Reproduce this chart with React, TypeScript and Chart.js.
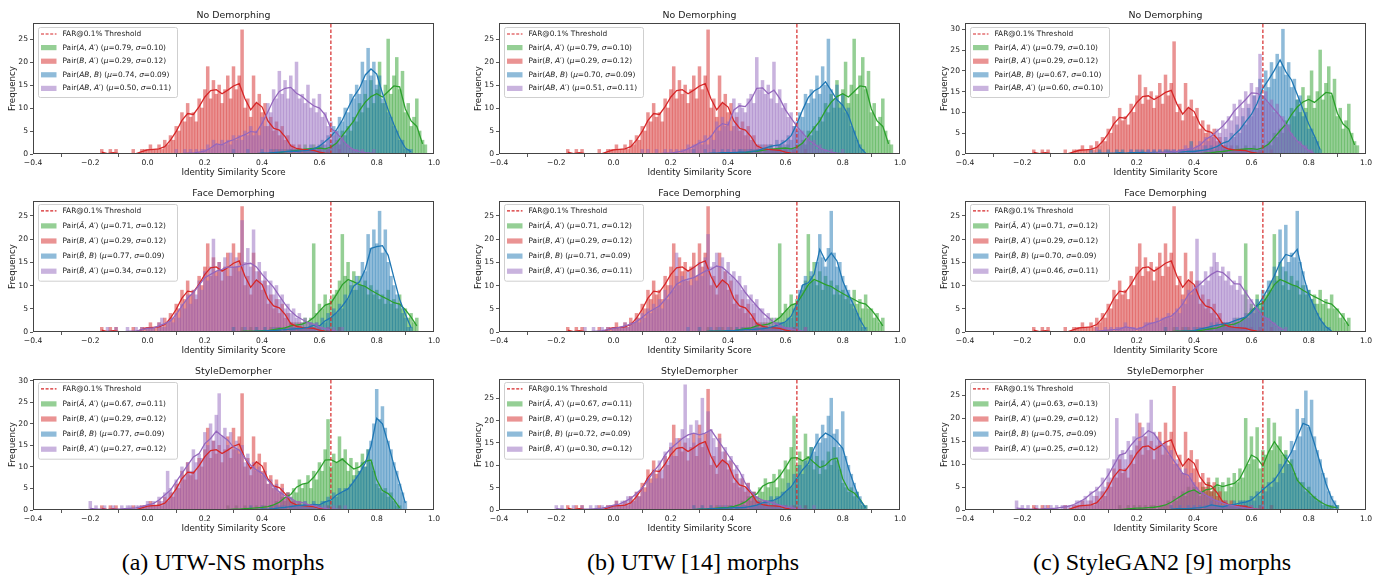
import React, { useEffect, useRef } from "react";
import { Chart, registerables } from "chart.js";

Chart.register(...registerables);

// ---------------- data ----------------
const X_MIN = -0.4;
const X_MAX = 1.0;
const X_TICK_STEP = 0.2;
const Y_TICK_STEP = 5;
const BIN = 0.01;
const LINE_STEP = 0.02;
const THRESHOLD = 0.64;
const THRESHOLD_LABEL = "FAR@0.1% Threshold";
const X_LABEL = "Identity Similarity Score";
const Y_LABEL = "Frequency";
const ROW_TITLES = ["No Demorphing", "Face Demorphing", "StyleDemorpher"];
const CAPTIONS = ["(a) UTW-NS morphs", "(b) UTW [14] morphs", "(c) StyleGAN2 [9] morphs"];
const Y_MAX = [
  [28.5, 28.5, 31.5],
  [28.2, 28.2, 28.2],
  [30.4, 29.3, 28.6],
];

// Pair(B, A') — identical in every panel
const RED_X0 = -0.16;
const RED_BARS = [1,0,0,1,0,1,0,0,0,0, 0,1,0,0,1,1,1,2,1,1, 2,1,3,2,4,3,6,5,9,7, 11,8,9,7,12,10,14,19,12,16, 13,15,11,14,17,12,19,14,17,27, 10,12,8,17,11,13,9,11,6,8, 5,7,4,6,3,4,2,2,1,2, 1,1,1,1,1,0,1,0,0,1, 0,0,0,1,0];
const RED_LINE = [0.4,0.1,0.3,0.1,0.1,0.1,0.1,0.5,0.9,1.0, 1.1,1.6,3.0,4.9,7.3,8.8,8.6,10.3,12.4,13.8, 14.0,13.1,13.9,14.8,15.3,12.0,9.6,11.2,10.2,7.2, 5.6,5.2,3.8,1.8,1.2,1.0,0.9,0.8,0.4,0.2, 0.1,0.1,0.1];

// No Demorphing
const GREEN_ND_X0 = 0.42;
const GREEN_ND_BARS = [0,0,1,0,1,0,1,0,1,1, 0,1,1,2,1,1,2,1,1,2, 1,1,2,2,3,2,5,4,6,5, 8,7,11,9,13,10,16,11,14,20, 11,15,25,13,17,21,14,18,9,11, 6,8,12,5,3,2];
const GREEN_ND_LINE = [0.1,0.2,0.3,0.5,0.6,0.8,1.0,1.1,1.2,1.3, 1.1,1.5,2.4,4.0,5.6,7.2,9.5,11.3,12.5,13.1, 12.4,13.6,14.8,14.6,9.8,7.2,6.0,2.2];

const BLUE_ND_A_X0 = 0.30;
const BLUE_ND_A_BARS = [1,0,0,0,0,1,0,0,0,0, 1,0,0,1,0,1,0,1,0,1, 1,0,1,1,0,1,1,2,1,1, 2,3,2,4,3,6,5,8,7,10, 9,13,12,15,13,20,16,23,17,20, 15,17,12,11,9,8,6,5,3,3, 1,1,1,0];
const BLUE_ND_A_LINE = [0.1,0.1,0.1,0.1,0.1,0.2,0.2,0.3,0.4,0.5, 0.6,0.6,0.7,0.8,1.1,1.7,2.7,3.8,5.3,7.4, 10.0,12.5,14.3,17.2,18.5,17.4,13.2,9.6,6.4,3.5, 1.3,0.5];
const PURPLE_ND_A_X0 = 0.10;
const PURPLE_ND_A_BARS = [1,0,0,1,0,1,0,1,0,1, 1,2,1,3,2,2,3,2,3,2, 4,3,4,3,5,4,6,4,5,4, 8,6,11,9,14,12,18,13,16,12, 17,14,20,12,13,11,15,10,12,9, 13,8,9,6,7,4,5,3,4,2, 2,1,1,1,0,1,0,0,0,1, 0];
const PURPLE_ND_A_LINE = [0.1,0.1,0.2,0.2,0.4,0.6,1.3,2.2,2.0,2.7, 3.1,3.7,4.2,4.9,4.7,6.7,9.2,11.8,13.6,14.3, 14.5,13.2,12.5,11.4,10.5,10.0,8.5,5.6,4.6,3.1, 1.7,0.9,0.5,0.3,0.2,0.1];

const BLUE_ND_B_X0 = 0.28;
const BLUE_ND_B_BARS = [1,0,0,0,1,0,0,1,0,0, 1,0,1,0,1,0,1,1,0,1, 1,1,1,1,2,1,2,2,1,3, 2,3,2,4,3,6,5,9,8,13, 11,14,12,17,13,19,15,25,14,12, 15,10,13,9,10,6,5,3,2,1, 0];
const BLUE_ND_B_LINE = [0.1,0.1,0.1,0.2,0.2,0.3,0.3,0.3,0.4,0.4, 0.5,0.7,1.1,1.5,1.8,2.0,2.8,4.0,6.6,9.6, 12.3,13.7,14.4,15.7,13.8,11.8,10.6,8.4,4.8,1.5, 0.2];
const PURPLE_ND_B_X0 = 0.10;
const PURPLE_ND_B_BARS = [1,0,1,0,0,1,0,0,1,0, 1,0,1,0,1,1,2,1,2,2, 3,2,4,2,4,3,7,5,8,6, 7,5,12,9,11,10,9,12,13,11, 21,14,16,13,15,12,20,11,14,10, 11,8,9,6,7,5,5,3,4,2, 3,1,2,1,1,0,1,0,0,0, 1];
const PURPLE_ND_B_LINE = [0.1,0.1,0.1,0.1,0.2,0.2,0.4,0.6,1.1,1.7, 2.4,2.8,3.8,5.6,6.6,6.3,9.6,10.5,10.3,11.8, 14.3,14.4,13.1,13.9,12.1,9.6,7.8,6.0,4.6,3.1, 2.2,1.3,0.8,0.4,0.2,0.1];

const BLUE_ND_C_X0 = 0.04;
const BLUE_ND_C_BARS = [1,0,0,1,0,0,1,0,0,1, 0,1,0,0,1,0,1,0,1,0, 1,0,1,0,1,0,1,1,0,1, 0,1,1,0,1,3,1,1,1,1, 2,1,2,1,2,3,2,4,3,5, 4,7,5,9,7,11,9,14,11,18, 14,20,16,22,18,24,21,30,19,22, 16,18,13,14,9,10,6,6,4,3, 1];
const BLUE_ND_C_LINE = [0.1,0.2,0.2,0.2,0.2,0.3,0.2,0.3,0.3,0.4, 0.3,0.4,0.4,0.4,0.5,0.5,0.5,0.6,0.6,0.8, 1.0,1.3,1.8,2.6,3.1,4.6,5.9,7.8,9.5,12.2, 15.8,17.9,20.1,22.6,19.8,17.8,14.3,10.7,7.2,4.3, 1.0];
const PURPLE_ND_C_X0 = 0.18;
const PURPLE_ND_C_BARS = [1,0,0,1,0,0,1,0,1,0, 1,0,1,0,1,1,0,1,1,2, 1,2,1,2,3,2,4,3,5,4, 6,5,8,6,9,8,12,9,13,11, 15,12,17,14,16,24,13,15,12,13, 10,12,9,9,7,7,5,4,3,3, 2,2,1,1,0];
const PURPLE_ND_C_LINE = [0.1,0.1,0.1,0.2,0.2,0.3,0.4,0.5,0.6,0.9, 1.2,1.4,2.1,3.5,4.3,5.5,6.7,8.3,10.3,11.7, 13.1,14.7,14.6,13.9,12.3,10.7,9.1,7.1,4.7,3.1, 1.9,0.8,0.1];

// Face Demorphing
const GREEN_FD_X0 = 0.30;
const GREEN_FD_BARS = [1,0,0,1,0,0,1,0,1,0, 0,1,0,1,0,1,1,0,1,1, 2,1,2,1,2,3,2,3,19,4, 6,5,8,6,7,8,9,11,21,12, 15,10,13,9,12,10,11,8,10,8, 9,7,8,6,9,6,7,5,8,5, 5,3,4,2,3];
const GREEN_FD_LINE = [0.1,0.1,0.2,0.2,0.2,0.3,0.3,0.5,0.7,0.9, 1.3,1.5,1.7,2.2,3.1,4.5,5.8,6.2,8.1,10.2, 11.3,10.8,10.2,9.8,9.0,8.3,7.6,7.0,6.3,6.0, 4.8,3.2,1.3];

const BLUE_FD_A_X0 = 0.30;
const BLUE_FD_A_BARS = [1,0,0,0,1,0,0,0,1,0, 0,1,0,0,1,0,1,0,1,0, 1,1,0,1,1,1,1,2,1,2, 1,3,2,4,3,5,4,6,5,8, 7,11,9,12,10,15,13,21,18,22, 19,26,17,22,15,12,10,8,6,4, 3,1,1];
const BLUE_FD_A_LINE = [0.1,0.1,0.1,0.1,0.2,0.2,0.3,0.3,0.4,0.5, 0.6,0.7,0.8,1.0,1.4,1.3,2.4,3.1,4.2,5.6, 7.3,9.9,10.8,13.5,18.0,18.4,18.6,16.5,11.7,7.0, 3.8,0.9];
const PURPLE_FD_A_X0 = -0.14;
const PURPLE_FD_A_BARS = [1,0,0,1,0,0,0,1,0,0, 1,0,1,0,1,1,1,0,2,3, 1,2,3,2,4,3,6,5,8,6, 9,8,11,9,13,11,14,20,12,15, 13,16,12,17,14,16,13,24,15,18, 14,22,13,15,11,13,10,11,8,10, 7,8,5,6,4,5,3,4,2,3, 2,2,1,2,1,1,0,1,0,1, 0,0,1];
const PURPLE_FD_A_LINE = [0.2,0.1,0.1,0.1,0.2,0.2,0.5,0.8,0.9,1.3, 1.8,2.4,3.8,5.6,7.3,8.5,10.1,11.7,12.4,13.1, 13.5,14.0,13.9,14.1,14.6,14.8,14.0,12.4,11.0,9.6, 7.8,6.0,4.5,3.4,2.7,2.0,1.7,1.1,0.7,0.4, 0.2,0.1];

const BLUE_FD_B_X0 = 0.26;
const BLUE_FD_B_BARS = [1,0,0,0,1,0,0,0,1,0, 0,1,0,0,1,0,0,1,0,1, 0,1,0,1,1,0,1,1,1,1, 1,2,2,2,2,3,3,5,6,9, 10,12,10,13,11,15,21,16,14,18, 26,17,14,15,12,10,9,7,5,4, 3,1,1];
const BLUE_FD_B_LINE = [0.1,0.1,0.1,0.1,0.2,0.2,0.2,0.3,0.3,0.4, 0.5,0.5,0.6,0.7,0.9,1.2,1.7,2.2,3.4,6.0, 10.1,10.6,12.4,17.8,15.3,17.0,15.3,11.0,8.1,5.6, 2.7,0.6];
const PURPLE_FD_B_X0 = -0.10;
const PURPLE_FD_B_BARS = [1,0,0,1,0,0,1,0,1,0, 1,1,1,1,2,1,2,2,3,2, 4,3,5,4,6,5,7,5,9,7, 10,9,17,10,12,11,13,10,14,11, 15,12,16,21,14,15,17,14,16,13, 15,12,13,11,12,9,10,7,8,6, 7,5,5,3,4,2,3,2,2,1, 1,1,1,0,1,0,0,1,0];
const PURPLE_FD_B_LINE = [0.1,0.1,0.2,0.3,0.5,0.8,1.0,1.3,1.7,2.2, 3.1,4.2,4.9,5.6,7.0,8.5,10.3,11.0,11.4,11.7, 12.4,13.1,13.5,14.2,13.9,12.8,11.7,10.3,8.5,7.0, 5.6,4.2,3.1,2.0,1.4,0.9,0.6,0.4,0.2,0.1];

const BLUE_FD_C_X0 = 0.30;
const BLUE_FD_C_BARS = [1,0,0,0,1,0,0,1,0,0, 1,0,1,0,1,1,2,1,2,1, 2,2,2,1,3,2,3,3,4,3, 5,4,7,5,9,7,11,9,14,11, 22,14,23,15,17,16,26,15,13,10, 9,7,6,4,3,2,1,1,0];
const BLUE_FD_C_LINE = [0.1,0.1,0.1,0.2,0.2,0.3,0.6,0.9,1.2,1.5, 1.7,1.9,2.4,2.8,3.2,4.2,5.6,7.4,9.6,12.1, 14.9,16.7,16.3,17.8,12.4,8.1,5.2,2.7,1.1,0.2];
const PURPLE_FD_C_X0 = 0.06;
const PURPLE_FD_C_BARS = [1,0,0,1,0,1,0,1,1,1, 2,1,1,1,0,1,1,2,2,2, 2,3,2,3,3,4,3,4,5,4, 7,6,9,8,10,20,11,10,13,11, 14,17,15,12,14,11,13,10,11,9, 12,8,9,7,7,5,5,4,3,3, 3,2,2,1,1,0,1];
const PURPLE_FD_C_LINE = [0.2,0.3,0.4,0.5,0.6,1.1,0.9,0.6,1.0,1.7, 2.0,2.4,3.1,3.4,4.5,6.0,8.1,9.2,10.3,11.4, 12.4,13.1,12.8,11.7,10.4,10.3,8.5,6.7,4.9,3.4, 2.7,1.7,0.8,0.3];

// StyleDemorpher
const GREEN_SD_X0 = 0.28;
const GREEN_SD_BARS = [1,0,0,1,0,0,1,0,1,0, 1,0,1,1,0,1,1,2,1,3, 2,4,3,5,4,7,5,6,8,5, 9,7,11,9,14,21,10,13,11,17, 12,14,9,12,8,11,9,13,10,14, 11,9,6,5,4,5,3,4,2,1, 1];
const GREEN_SD_LINE = [0.1,0.2,0.2,0.3,0.4,0.5,0.6,0.8,1.2,1.8, 2.9,3.6,5.3,6.0,6.3,7.6,9.5,11.6,11.7,11.0, 11.8,10.6,9.5,10.0,11.3,11.6,7.0,4.5,3.8,2.4, 0.5];
const GREEN_SD_C_X0 = 0.14;
const GREEN_SD_C_BARS = [1,0,0,1,0,1,0,1,0,1, 0,1,1,0,1,1,1,2,1,3, 2,3,4,3,5,4,5,4,3,5, 4,6,4,5,7,5,6,4,7,5, 8,6,9,7,20,10,16,11,18,9, 13,12,20,13,19,14,16,12,13,10, 11,8,7,6,6,4,5,3,3,2, 2,1,1,1,1,0,1];
const GREEN_SD_C_LINE = [0.1,0.2,0.3,0.4,0.4,0.5,0.6,0.8,1.1,1.7, 2.5,3.3,4.0,4.4,3.6,4.4,4.6,5.5,5.1,5.5, 5.8,6.9,9.4,12.0,11.3,9.6,12.7,14.9,13.1,11.3, 9.8,6.5,5.1,4.0,2.7,1.8,1.1,0.7,0.5];

const BLUE_SD_A_X0 = 0.36;
const BLUE_SD_A_BARS = [1,0,0,0,1,0,0,1,0,1, 0,1,1,0,1,1,1,1,1,2, 1,1,2,1,1,2,2,3,2,4, 3,5,4,5,5,6,7,8,9,11, 10,14,16,20,28,21,24,19,16,14, 11,9,6,4,2];
const BLUE_SD_A_LINE = [0.1,0.1,0.2,0.2,0.3,0.5,0.6,0.8,1.0,1.1, 1.2,1.3,1.2,1.9,2.3,3.5,4.2,4.9,6.6,8.5, 10.9,14.8,21.3,20.0,15.4,10.4,6.2,1.6];
const PURPLE_SD_A_X0 = -0.20;
const PURPLE_SD_A_BARS = [2,0,1,0,0,1,0,0,1,0, 0,1,0,1,1,0,1,1,1,1, 2,1,2,1,3,2,4,9,5,4, 7,6,10,8,11,9,14,11,13,12, 18,15,20,16,22,27,17,19,15,18, 14,16,13,15,11,13,10,11,9,10, 8,9,6,7,5,6,4,5,3,4, 3,2,2,2,1,2,1,1,1,1, 1,0,1,0,0,1,0,0,0,1, 0];
const PURPLE_SD_A_LINE = [0.4,0.2,0.2,0.1,0.2,0.2,0.3,0.4,0.5,0.8, 1.2,1.5,2.3,3.5,4.6,6.6,8.5,10.4,12.3,13.1, 15.4,16.6,18.3,17.2,16.2,14.6,13.9,12.0,10.4,9.3, 8.5,6.9,5.4,4.2,3.3,2.7,1.9,1.7,1.3,1.0, 0.6,0.4,0.2,0.2,0.1,0.1];

const BLUE_SD_B_X0 = 0.28;
const BLUE_SD_B_BARS = [1,0,0,1,0,0,1,0,0,1, 0,1,0,1,0,1,0,1,1,0, 1,1,1,2,1,2,2,3,2,3, 3,4,4,6,5,8,7,10,8,11, 10,14,13,17,15,19,16,21,25,17, 18,14,22,12,10,8,6,4,3,1, 1];
const BLUE_SD_B_LINE = [0.1,0.2,0.2,0.3,0.3,0.4,0.4,0.5,0.5,0.6, 0.8,1.1,1.6,1.9,2.2,2.8,4.1,5.2,7.1,9.0, 10.4,13.8,16.0,17.2,16.5,15.3,13.8,9.3,5.6,2.2, 0.5];
const PURPLE_SD_B_X0 = -0.20;
const PURPLE_SD_B_BARS = [1,0,1,0,0,0,1,0,0,1, 0,0,1,0,1,0,1,0,1,1, 1,2,1,2,2,3,3,2,4,3, 5,4,7,6,9,7,11,9,13,11, 15,12,16,14,18,28,16,19,15,20, 16,25,15,22,18,16,14,16,13,14, 11,12,9,10,7,8,5,6,4,4, 3,2,2,2,2,1,2,1,1,1, 1,0,1,0,0,1,0,0,0,0, 1];
const PURPLE_SD_B_LINE = [0.3,0.2,0.1,0.1,0.1,0.2,0.2,0.3,0.4,0.7, 1.1,1.3,1.9,2.6,3.7,4.9,6.7,8.6,10.2,12.3, 13.8,14.9,16.0,16.8,17.2,16.8,17.2,17.9,16.0,14.2, 12.3,10.4,8.6,6.0,4.1,2.8,2.2,1.9,1.5,1.1, 0.7,0.5,0.3,0.2,0.1,0.1];

const BLUE_SD_C_X0 = 0.32;
const BLUE_SD_C_BARS = [1,0,0,1,0,0,1,0,1,0, 1,0,1,1,2,1,1,1,1,1, 1,1,2,1,2,2,2,2,3,2, 4,3,5,4,6,5,7,6,10,8, 12,10,15,13,22,16,20,26,18,24, 16,13,11,8,7,4,3,2,1];
const BLUE_SD_C_LINE = [0.2,0.3,0.3,0.3,0.4,0.5,0.7,1.1,0.9,0.7, 1.0,1.2,1.5,1.7,2.2,3.3,4.4,5.5,6.5,8.4, 10.5,12.7,16.0,18.9,18.4,14.5,10.2,5.8,2.5,0.4];
const PURPLE_SD_C_X0 = -0.22;
const PURPLE_SD_C_BARS = [2,0,1,0,1,0,0,1,0,0, 1,0,1,0,1,0,1,1,1,1, 1,2,2,2,3,2,4,3,5,4, 7,5,9,7,11,20,12,13,11,15, 13,16,21,15,18,16,19,24,17,16, 15,14,15,12,13,10,11,9,8,9, 7,8,6,5,4,4,3,3,3,2, 2,2,1,2,1,1,1,1,0,1, 0,0,1,0,0,0,1];
const PURPLE_SD_C_LINE = [0.4,0.3,0.2,0.2,0.2,0.3,0.3,0.4,0.6,0.8, 1.2,1.8,2.5,3.6,4.4,5.8,7.6,9.8,12.0,12.4, 14.2,15.6,16.1,17.3,16.7,14.9,13.4,11.6,9.8,8.0, 7.6,5.5,4.0,3.3,2.5,2.0,1.5,1.1,0.9,0.6, 0.4,0.3,0.2,0.1];

// legend labels (text between underscores is italic)
const LABELS_ND_A = ["Pair(_A_, _A_′) (_μ_=0.79, _σ_=0.10)", "Pair(_B_, _A_′) (_μ_=0.29, _σ_=0.12)", "Pair(_AB_, _B_) (_μ_=0.74, _σ_=0.09)", "Pair(_AB_, _A_′) (_μ_=0.50, _σ_=0.11)"];
const LABELS_ND_B = ["Pair(_A_, _A_′) (_μ_=0.79, _σ_=0.10)", "Pair(_B_, _A_′) (_μ_=0.29, _σ_=0.12)", "Pair(_AB_, _B_) (_μ_=0.70, _σ_=0.09)", "Pair(_AB_, _A_′) (_μ_=0.51, _σ_=0.11)"];
const LABELS_ND_C = ["Pair(_A_, _A_′) (_μ_=0.79, _σ_=0.10)", "Pair(_B_, _A_′) (_μ_=0.29, _σ_=0.12)", "Pair(_AB_, _B_) (_μ_=0.67, _σ_=0.10)", "Pair(_AB_, _A_′) (_μ_=0.60, _σ_=0.10)"];
const LABELS_FD_A = ["Pair(_Â_, _A_′) (_μ_=0.71, _σ_=0.12)", "Pair(_B_, _A_′) (_μ_=0.29, _σ_=0.12)", "Pair(_B̂_, _B_) (_μ_=0.77, _σ_=0.09)", "Pair(_B̂_, _A_′) (_μ_=0.34, _σ_=0.12)"];
const LABELS_FD_B = ["Pair(_Â_, _A_′) (_μ_=0.71, _σ_=0.12)", "Pair(_B_, _A_′) (_μ_=0.29, _σ_=0.12)", "Pair(_B̂_, _B_) (_μ_=0.71, _σ_=0.09)", "Pair(_B̂_, _A_′) (_μ_=0.36, _σ_=0.11)"];
const LABELS_FD_C = ["Pair(_Â_, _A_′) (_μ_=0.71, _σ_=0.12)", "Pair(_B_, _A_′) (_μ_=0.29, _σ_=0.12)", "Pair(_B̂_, _B_) (_μ_=0.70, _σ_=0.09)", "Pair(_B̂_, _A_′) (_μ_=0.46, _σ_=0.11)"];
const LABELS_SD_A = ["Pair(_Â_, _A_′) (_μ_=0.67, _σ_=0.11)", "Pair(_B_, _A_′) (_μ_=0.29, _σ_=0.12)", "Pair(_B̂_, _B_) (_μ_=0.77, _σ_=0.09)", "Pair(_B̂_, _A_′) (_μ_=0.27, _σ_=0.12)"];
const LABELS_SD_B = ["Pair(_Â_, _A_′) (_μ_=0.67, _σ_=0.11)", "Pair(_B_, _A_′) (_μ_=0.29, _σ_=0.12)", "Pair(_B̂_, _B_) (_μ_=0.72, _σ_=0.09)", "Pair(_B̂_, _A_′) (_μ_=0.30, _σ_=0.12)"];
const LABELS_SD_C = ["Pair(_Â_, _A_′) (_μ_=0.63, _σ_=0.13)", "Pair(_B_, _A_′) (_μ_=0.29, _σ_=0.12)", "Pair(_B̂_, _B_) (_μ_=0.75, _σ_=0.09)", "Pair(_B̂_, _A_′) (_μ_=0.25, _σ_=0.12)"];

// ---------------- styling ----------------
const FONT = '"DejaVu Sans", "Noto Sans", sans-serif';
const LINE_COLORS = ["#2ca02c", "#d62728", "#1f77b4", "#9467bd"];
const FILL_COLORS = ["rgba(44,160,44,0.5)", "rgba(214,39,40,0.5)", "rgba(31,119,180,0.5)", "rgba(148,103,189,0.5)"];
const THRESH_COLOR = "#d62728";
const AXIS_COLOR = "#444";
const TEXT_COLOR = "#1a1a1a";

const CW = 448;
const CH = 180;
const PAD_TOP = 23;
const Y_AXIS_W = 33;
const X_AXIS_H = 24;
const PAD_RIGHT = 14;
const PAD_BOTTOM = CH - PAD_TOP - X_AXIS_H - 131;
const COL_LEFT = [0, 466, 932];
const ROW_TOP = [0, 178, 356];
const CAPTION_CX = [223, 693, 1162];

const S = (x0: number, bars: number[], line: number[]) => ({ x0, bars, line });
const RED = S(RED_X0, RED_BARS, RED_LINE);
const GREEN_ND = S(GREEN_ND_X0, GREEN_ND_BARS, GREEN_ND_LINE);
const GREEN_FD = S(GREEN_FD_X0, GREEN_FD_BARS, GREEN_FD_LINE);
const GREEN_SD = S(GREEN_SD_X0, GREEN_SD_BARS, GREEN_SD_LINE);
const GREEN_SD_C = S(GREEN_SD_C_X0, GREEN_SD_C_BARS, GREEN_SD_C_LINE);

const GRID = [
  [
    { series: [GREEN_ND, RED, S(BLUE_ND_A_X0, BLUE_ND_A_BARS, BLUE_ND_A_LINE), S(PURPLE_ND_A_X0, PURPLE_ND_A_BARS, PURPLE_ND_A_LINE)], labels: LABELS_ND_A },
    { series: [GREEN_ND, RED, S(BLUE_ND_B_X0, BLUE_ND_B_BARS, BLUE_ND_B_LINE), S(PURPLE_ND_B_X0, PURPLE_ND_B_BARS, PURPLE_ND_B_LINE)], labels: LABELS_ND_B },
    { series: [GREEN_ND, RED, S(BLUE_ND_C_X0, BLUE_ND_C_BARS, BLUE_ND_C_LINE), S(PURPLE_ND_C_X0, PURPLE_ND_C_BARS, PURPLE_ND_C_LINE)], labels: LABELS_ND_C },
  ],
  [
    { series: [GREEN_FD, RED, S(BLUE_FD_A_X0, BLUE_FD_A_BARS, BLUE_FD_A_LINE), S(PURPLE_FD_A_X0, PURPLE_FD_A_BARS, PURPLE_FD_A_LINE)], labels: LABELS_FD_A },
    { series: [GREEN_FD, RED, S(BLUE_FD_B_X0, BLUE_FD_B_BARS, BLUE_FD_B_LINE), S(PURPLE_FD_B_X0, PURPLE_FD_B_BARS, PURPLE_FD_B_LINE)], labels: LABELS_FD_B },
    { series: [GREEN_FD, RED, S(BLUE_FD_C_X0, BLUE_FD_C_BARS, BLUE_FD_C_LINE), S(PURPLE_FD_C_X0, PURPLE_FD_C_BARS, PURPLE_FD_C_LINE)], labels: LABELS_FD_C },
  ],
  [
    { series: [GREEN_SD, RED, S(BLUE_SD_A_X0, BLUE_SD_A_BARS, BLUE_SD_A_LINE), S(PURPLE_SD_A_X0, PURPLE_SD_A_BARS, PURPLE_SD_A_LINE)], labels: LABELS_SD_A },
    { series: [GREEN_SD, RED, S(BLUE_SD_B_X0, BLUE_SD_B_BARS, BLUE_SD_B_LINE), S(PURPLE_SD_B_X0, PURPLE_SD_B_BARS, PURPLE_SD_B_LINE)], labels: LABELS_SD_B },
    { series: [GREEN_SD_C, RED, S(BLUE_SD_C_X0, BLUE_SD_C_BARS, BLUE_SD_C_LINE), S(PURPLE_SD_C_X0, PURPLE_SD_C_BARS, PURPLE_SD_C_LINE)], labels: LABELS_SD_C },
  ],
];

const toPoints = (x0: number, step: number, ys: number[]) =>
  ys.map((y, i) => ({ x: Math.round((x0 + i * step) * 100) / 100, y }));

const fmtX = (v: number) => {
  const n = Math.round(v * 10) / 10;
  if (Math.abs(n) < 1e-9) return "0.0";
  return (n < 0 ? "\u2212" : "") + Math.abs(n).toFixed(1);
};

function decorPlugin(title: string, labels: string[], row: number) {
  const hatRows = row > 0;
  const boxTopOff = hatRows ? 3 : 4;
  const rowFirst = hatRows ? 6.8 : 7;
  const rowGap = hatRows ? 15.1 : 13.6;
  const boxH = hatRows ? 76.7 : 70;
  return {
    id: "decor",
    afterDraw(chart: any) {
      const { ctx, chartArea } = chart;
      const { left, top, right, bottom } = chartArea;
      ctx.save();
      // frame
      ctx.strokeStyle = AXIS_COLOR;
      ctx.lineWidth = 1;
      ctx.strokeRect(Math.round(left) + 0.5, Math.round(top) + 0.5, Math.round(right - left) - 1, Math.round(bottom - top) - 1);
      // title
      ctx.fillStyle = TEXT_COLOR;
      ctx.font = `9.4px ${FONT}`;
      ctx.textAlign = "center";
      ctx.textBaseline = "middle";
      ctx.fillText(title, (left + right) / 2, top - 7.8);
      // legend frame
      const bx = left + 5;
      const by = top + boxTopOff;
      const bw = 139;
      ctx.beginPath();
      if (ctx.roundRect) ctx.roundRect(bx + 0.5, by + 0.5, bw, boxH, 2);
      else ctx.rect(bx + 0.5, by + 0.5, bw, boxH);
      ctx.fillStyle = "rgba(255,255,255,0.8)";
      ctx.fill();
      ctx.strokeStyle = "#cfcfcf";
      ctx.lineWidth = 1;
      ctx.stroke();
      const items = [THRESHOLD_LABEL, ...labels];
      items.forEach((label, i) => {
        const cy = by + rowFirst + i * rowGap;
        if (i === 0) {
          ctx.save();
          ctx.strokeStyle = THRESH_COLOR;
          ctx.lineWidth = 1.2;
          ctx.setLineDash([3, 1.6]);
          ctx.beginPath();
          ctx.moveTo(bx + 3, cy);
          ctx.lineTo(bx + 18.5, cy);
          ctx.stroke();
          ctx.restore();
        } else {
          ctx.fillStyle = FILL_COLORS[i - 1];
          ctx.fillRect(bx + 3, cy - 2.6, 15.5, 5.2);
        }
        ctx.fillStyle = TEXT_COLOR;
        ctx.textAlign = "left";
        ctx.textBaseline = "middle";
        let x = bx + 24.5;
        label.split("_").forEach((part, k) => {
          if (!part) return;
          ctx.font = `${k % 2 ? "italic " : ""}7.4px ${FONT}`;
          ctx.fillText(part, x, cy);
          x += ctx.measureText(part).width;
        });
      });
      ctx.restore();
    },
  };
}

function buildConfig(row: number, col: number): any {
  const cell = GRID[row][col];
  const ymax = Y_MAX[row][col];
  const datasets: any[] = [
    {
      type: "line",
      data: [{ x: THRESHOLD, y: 0 }, { x: THRESHOLD, y: ymax }],
      borderColor: THRESH_COLOR,
      borderWidth: 1.2,
      borderDash: [3.5, 2],
      pointRadius: 0,
      order: 0,
    },
  ];
  cell.series.forEach((s, i) => {
    datasets.push({
      type: "line",
      data: toPoints(s.x0, LINE_STEP, s.line),
      borderColor: LINE_COLORS[i],
      borderWidth: 1.3,
      pointRadius: 0,
      tension: 0,
      fill: false,
      order: 4 - i,
    });
    datasets.push({
      type: "bar",
      data: toPoints(s.x0, BIN, s.bars),
      backgroundColor: FILL_COLORS[i],
      borderWidth: 0,
      grouped: false,
      barPercentage: 1,
      categoryPercentage: 1,
      order: 14 - i,
    });
  });
  const tickFont = { family: FONT, size: 7.6 };
  const labelFont = { family: FONT, size: 8.7 };
  const grid = { drawOnChartArea: false, drawTicks: true, tickLength: 3, color: AXIS_COLOR, lineWidth: 0.9 };
  return {
    type: "bar",
    data: { datasets },
    options: {
      responsive: false,
      animation: false,
      events: [],
      devicePixelRatio: 1,
      layout: { padding: { top: PAD_TOP, right: PAD_RIGHT, bottom: PAD_BOTTOM, left: 0 } },
      plugins: { legend: { display: false }, tooltip: { enabled: false }, title: { display: false } },
      scales: {
        x: {
          type: "linear",
          min: X_MIN,
          max: X_MAX,
          offset: false,
          ticks: { stepSize: X_TICK_STEP, autoSkip: false, maxRotation: 0, minRotation: 0, padding: 1.5, color: TEXT_COLOR, font: tickFont, callback: (v: number) => fmtX(v) },
          grid,
          border: { display: false },
          title: { display: true, text: X_LABEL, color: TEXT_COLOR, font: labelFont, padding: { top: 0, bottom: 0 } },
          afterFit: (s: any) => { s.height = X_AXIS_H; },
        },
        y: {
          type: "linear",
          min: 0,
          max: ymax,
          ticks: { stepSize: Y_TICK_STEP, includeBounds: false, padding: 2, color: TEXT_COLOR, font: tickFont, callback: (v: number) => String(Math.round(v)) },
          grid,
          border: { display: false },
          title: { display: true, text: Y_LABEL, color: TEXT_COLOR, font: labelFont, padding: { top: 7.8, bottom: 0 } },
          afterFit: (s: any) => { s.width = Y_AXIS_W; },
        },
      },
    },
    plugins: [decorPlugin(ROW_TITLES[row], cell.labels, row)],
  };
}

function Panel({ row, col }: { row: number; col: number }) {
  const ref = useRef<HTMLCanvasElement>(null);
  useEffect(() => {
    const chart = new Chart(ref.current as HTMLCanvasElement, buildConfig(row, col));
    return () => chart.destroy();
  }, [row, col]);
  return (
    <canvas
      ref={ref}
      width={CW}
      height={CH}
      style={{ position: "absolute", left: COL_LEFT[col], top: ROW_TOP[row], width: CW, height: CH }}
    />
  );
}

export default function App() {
  return (
    <div style={{ position: "absolute", left: 0, top: 0, width: 1380, height: 578, background: "#fff", overflow: "hidden" }}>
      {[0, 1, 2].map((r) => [0, 1, 2].map((c) => <Panel key={`${r}-${c}`} row={r} col={c} />))}
      {CAPTIONS.map((t, i) => (
        <div
          key={t}
          style={{
            position: "absolute",
            left: CAPTION_CX[i] - 250,
            top: 549,
            width: 500,
            textAlign: "center",
            fontFamily: '"Liberation Serif", "Times New Roman", serif',
            fontSize: 24,
            lineHeight: "26px",
            color: "#000",
            whiteSpace: "nowrap",
          }}
        >
          {t}
        </div>
      ))}
    </div>
  );
}
